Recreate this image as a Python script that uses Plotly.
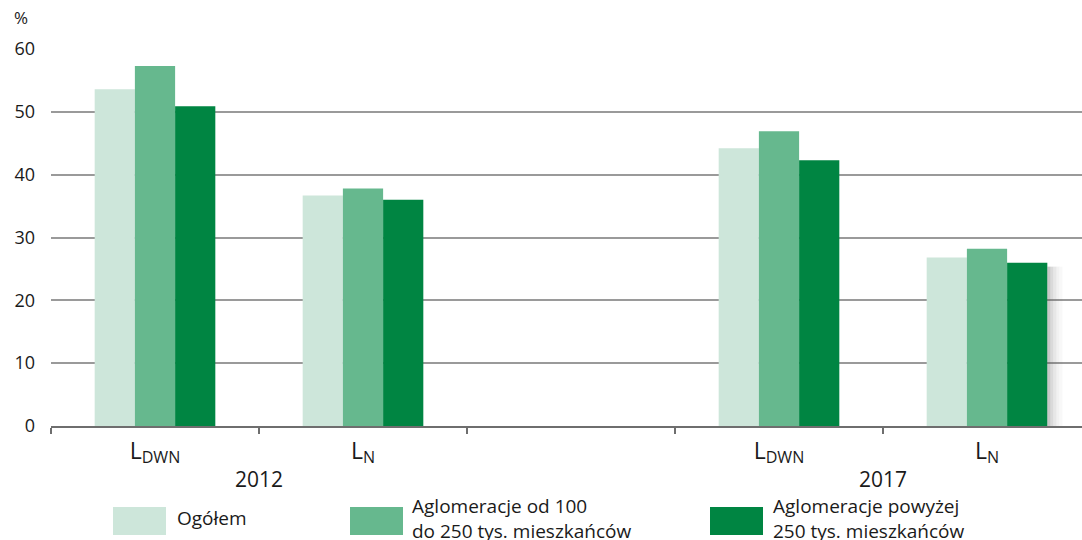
import plotly.graph_objects as go

# Categories on the x axis (one empty slot separates the two years)
categories = ["L<sub>DWN</sub>", "L<sub>N</sub>", "", "L<sub>DWN</sub>", "L<sub>N</sub>"]
positions = [0, 1, 3, 4]
years = ["2012", "2017"]
year_positions = [0.5, 3.5]

series_names = [
    "Ogółem",
    "Aglomeracje od 100<br>do 250 tys. mieszkańców",
    "Aglomeracje powyżej<br>250 tys. mieszkańców",
]
ogolem = [53.6, 36.7, 44.2, 26.8]
aglom_100_250 = [57.3, 37.8, 46.9, 28.2]
aglom_250_plus = [50.9, 36.0, 42.3, 26.0]
series_values = [ogolem, aglom_100_250, aglom_250_plus]
colors = ["#cde6da", "#66b88e", "#008542"]

y_ticks = [0, 10, 20, 30, 40, 50, 60]

FONT = "Open Sans"
BARGAP = 0.42

fig = go.Figure()
for name, vals, col in zip(series_names, series_values, colors):
    fig.add_trace(go.Bar(
        x=positions, y=vals, name=name.replace("<br>", " "),
        marker=dict(color=col, line=dict(width=0)),
        showlegend=False,
    ))

# Plot area: left 51px, 0 at y=426, 60 at y=49; slots 208px wide
W, H = 1082, 540
L_M, T_M, B_M = 51, 49, 114
plot_w = W - L_M
slot = 208
x_end = -0.5 + plot_w / slot

fig.update_layout(
    width=W, height=H,
    margin=dict(l=L_M, r=0, t=T_M, b=B_M),
    paper_bgcolor="white", plot_bgcolor="white",
    barmode="group", bargap=BARGAP, bargroupgap=0,
    font=dict(family=FONT, color="#1a1a1a"),
)

fig.update_xaxes(
    range=[-0.5, x_end],
    tickmode="array", tickvals=positions,
    ticktext=[categories[p] for p in positions],
    ticks="", tickfont=dict(size=23, family=FONT, color="#1a1a1a"),
    ticklabelstandoff=3,
    showline=True, linecolor="#6e6e6e", linewidth=2,
    showgrid=False, zeroline=False,
    minor=dict(tickmode="array", tickvals=[-0.5, 0.5, 1.5, 2.5, 3.5],
               ticks="outside", ticklen=6, tickwidth=1.5, tickcolor="#6e6e6e",
               showgrid=False),
)
fig.update_yaxes(
    range=[0, 60], tickmode="array", tickvals=y_ticks,
    ticks="", tickfont=dict(size=18, family=FONT, color="#1a1a1a"),
    ticklabelstandoff=15,
    showgrid=True, gridcolor="#9a9a9a", gridwidth=1.5,
    zeroline=False, showline=False,
)

def px_x(px):
    return (px - L_M) / plot_w

def px_y(py):
    return (H - B_M - py) / (H - T_M - B_M)

annotations = []
shapes = []

# unit label
annotations.append(dict(text="%", x=px_x(21), y=px_y(18), xref="paper", yref="paper",
                        xanchor="center", yanchor="middle",
                        showarrow=False, font=dict(size=17, family=FONT, color="#1a1a1a")))
# year labels
for yr, xp in zip(years, year_positions):
    annotations.append(dict(text=yr, x=xp, xref="x", y=px_y(479), yref="paper",
                            xanchor="center", yanchor="middle",
                            showarrow=False, font=dict(size=21, family=FONT, color="#1a1a1a")))

# soft drop shadow to the right of the last bar
edge = positions[-1] + (1 - BARGAP) / 2
unit_per_px = 1 / slot
top = aglom_250_plus[-1] - 60 / 377 * 4
for i, op in enumerate([0.32, 0.22, 0.14, 0.08, 0.04]):
    shapes.append(dict(type="rect", xref="x", yref="y",
                       x0=edge + i * 3 * unit_per_px, x1=edge + (i + 1) * 3 * unit_per_px,
                       y0=-60 / 377 * 2, y1=top,
                       fillcolor="#555555", opacity=op, line=dict(width=0), layer="above"))

# legend: swatches + labels
swatch_x = [113, 350, 710]
text_x = [175, 410, 771]
for name, col, sx, tx in zip(series_names, colors, swatch_x, text_x):
    shapes.append(dict(type="rect", xref="paper", yref="paper",
                       x0=px_x(sx), x1=px_x(sx + 53), y0=px_y(535), y1=px_y(507),
                       fillcolor=col, line=dict(width=0)))
    annotations.append(dict(text=name, x=px_x(tx), y=px_y(518), xref="paper", yref="paper",
                            xanchor="left", yanchor="middle", align="left",
                            showarrow=False,
                            font=dict(size=19, family=FONT, color="#1a1a1a")))

fig.update_layout(annotations=annotations, shapes=shapes)

fig.write_html("out.html")
